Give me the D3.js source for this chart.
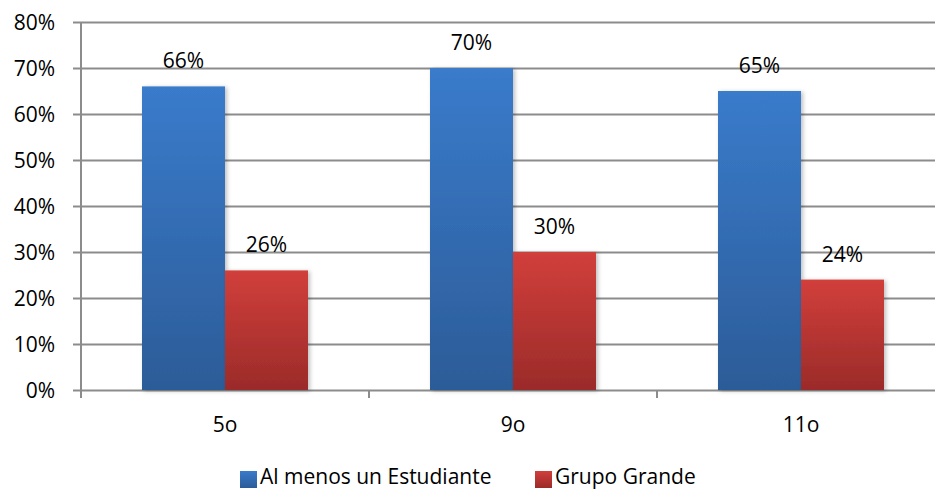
<!DOCTYPE html>
<html>
<head>
<meta charset="utf-8">
<script src="https://cdn.jsdelivr.net/npm/d3@7"></script>
<style>
  html, body { margin: 0; padding: 0; background: #fff; }
  svg { display: block; }
  text { font-family: "Open Sans", "Noto Sans", sans-serif; fill: #000; }
</style>
</head>
<body>
<svg id="chart" width="935" height="491"></svg>
<script>
// Grades and the share of schools per grade
const grades = ["5o", "9o", "11o"];
const seriesNames = ["Al menos un Estudiante", "Grupo Grande"];
const alMenos = [0.66, 0.70, 0.65];
const grupoGrande = [0.26, 0.30, 0.24];
const yTicks = [0, 0.1, 0.2, 0.3, 0.4, 0.5, 0.6, 0.7, 0.8];

const svg = d3.select("#chart");
const W = 935, H = 491;
const m = { left: 81, right: -10, top: 22, bottom: 101 };
const plotW = W - m.left - m.right;
const plotH = H - m.top - m.bottom;

const rows = grades.map((g, i) => ({ grade: g, values: [alMenos[i], grupoGrande[i]] }));

const x0 = d3.scaleBand().domain(grades).range([0, plotW]).paddingInner(0).paddingOuter(0);
const x1 = d3.scaleBand().domain([0, 1]).range([0, x0.bandwidth()]).paddingOuter(0.735).paddingInner(0);
const y = d3.scaleLinear().domain([0, 0.8]).range([plotH, 0]);

// Gradients for bar fills
const defs = svg.append("defs");
const grads = [
  { id: "gBlue", top: "#3a7bcb", bottom: "#2c5c98" },
  { id: "gRed", top: "#d13f3b", bottom: "#9b2b29" }
];
grads.forEach(gd => {
  const lg = defs.append("linearGradient").attr("id", gd.id)
    .attr("x1", 0).attr("y1", 0).attr("x2", 0).attr("y2", 1);
  lg.append("stop").attr("offset", "0%").attr("stop-color", gd.top);
  lg.append("stop").attr("offset", "100%").attr("stop-color", gd.bottom);
});
const shadow = defs.append("filter").attr("id", "shadow")
  .attr("x", "-20%").attr("y", "-20%").attr("width", "140%").attr("height", "140%");
shadow.append("feDropShadow").attr("dx", 2).attr("dy", 1).attr("stdDeviation", 2)
  .attr("flood-color", "#000").attr("flood-opacity", 0.25);

const g = svg.append("g").attr("transform", `translate(${m.left},${m.top})`);

// Horizontal gridlines with the value axis
const yAxis = d3.axisLeft(y).tickValues(yTicks).tickFormat(d3.format(".0%"))
  .tickSize(8).tickPadding(18);
const ya = g.append("g").call(yAxis);
ya.select(".domain").remove();
ya.selectAll(".tick line").attr("stroke", "#8c8c8c").attr("stroke-width", 2)
  .attr("x1", -8).attr("x2", plotW);
ya.selectAll(".tick text").attr("font-size", 21).attr("dy", "0.35em");

// Vertical value axis line
g.append("line").attr("x1", 0).attr("x2", 0).attr("y1", 0).attr("y2", plotH + 8)
  .attr("stroke", "#8c8c8c").attr("stroke-width", 2);

// Category axis
const xAxis = d3.axisBottom(x0).tickSize(0).tickPadding(27);
const xa = g.append("g").attr("transform", `translate(0,${plotH})`).call(xAxis);
xa.select(".domain").remove();
xa.selectAll(".tick text").attr("font-size", 21);
g.selectAll(".cat-tick").data(grades.slice(1)).enter().append("line")
  .attr("x1", d => x0(d)).attr("x2", d => x0(d))
  .attr("y1", plotH).attr("y2", plotH + 8)
  .attr("stroke", "#8c8c8c").attr("stroke-width", 2);

// Bars
const groups = g.selectAll(".grp").data(rows).enter().append("g")
  .attr("transform", d => `translate(${x0(d.grade)},0)`);
groups.selectAll("rect").data(d => d.values).enter().append("rect")
  .attr("x", (d, i) => x1(i))
  .attr("y", d => y(d))
  .attr("width", x1.bandwidth())
  .attr("height", d => plotH - y(d))
  .attr("fill", (d, i) => `url(#${grads[i].id})`)
  .attr("filter", "url(#shadow)");

// Value labels above the bars
groups.selectAll(".lbl").data(d => d.values).enter().append("text")
  .attr("x", (d, i) => x1(i) + x1.bandwidth() / 2)
  .attr("y", d => y(d) - 18)
  .attr("text-anchor", "middle")
  .attr("font-size", 21)
  .text(d => d3.format(".0%")(d));

// Legend
const legend = svg.append("g").attr("transform", "translate(240,469)");
const legendX = [0, 295];
seriesNames.forEach((name, i) => {
  const lg = legend.append("g").attr("transform", `translate(${legendX[i]},0)`);
  lg.append("rect").attr("y", 2).attr("width", 17).attr("height", 17).attr("fill", `url(#${grads[i].id})`);
  lg.append("text").attr("x", 20).attr("y", 15).attr("font-size", 21).text(name);
});
</script>
</body>
</html>
